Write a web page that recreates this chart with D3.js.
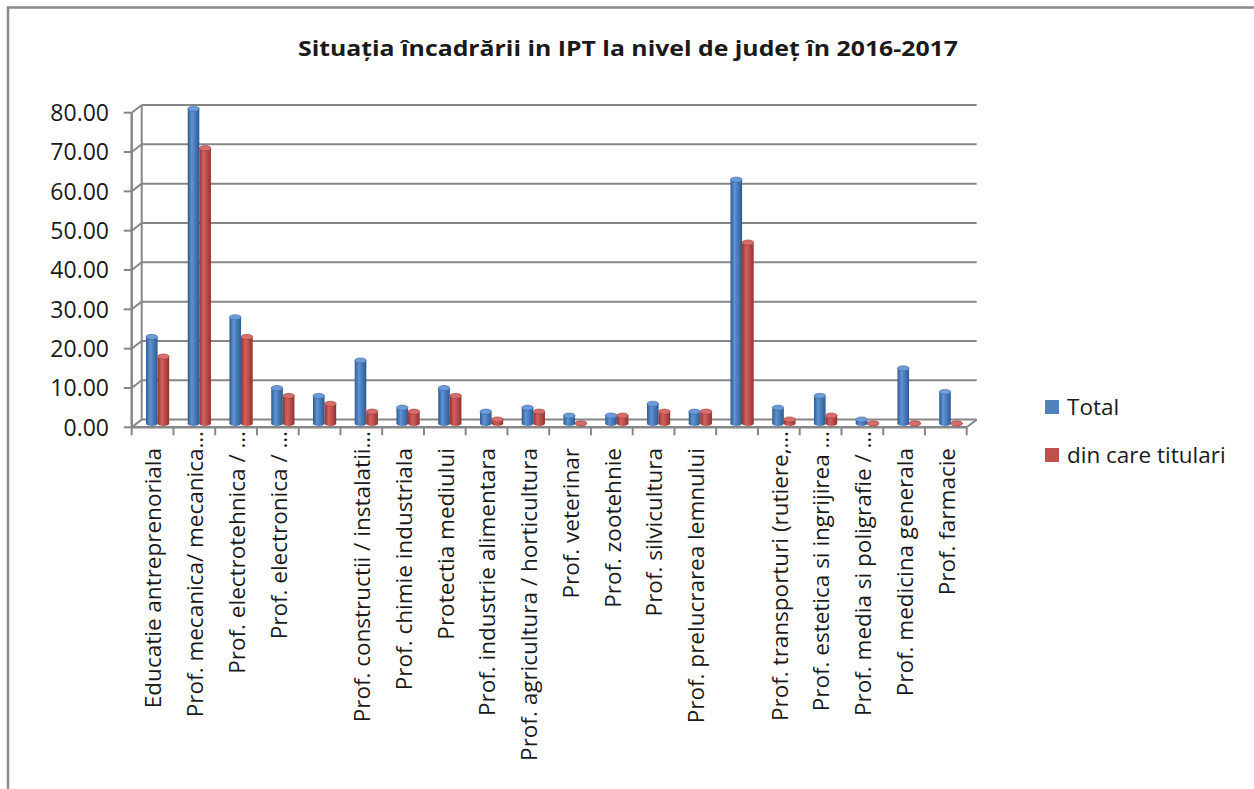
<!DOCTYPE html>
<html>
<head>
<meta charset="utf-8">
<script src="https://cdn.jsdelivr.net/npm/d3@7/dist/d3.min.js"></script>
<style>
  html, body { margin: 0; padding: 0; background: #fff; }
  svg { display: block; }
  text { font-family: "Open Sans", "DejaVu Sans", sans-serif; fill: #1a1a1a; }
</style>
</head>
<body>
<svg id="chart" width="1254" height="789"></svg>
<script>
const title = "Situația încadrării in IPT la nivel de județ în 2016-2017";
const categories = [
  "Educatie antreprenoriala",
  "Prof. mecanica/ mecanica…",
  "Prof. electrotehnica / …",
  "Prof. electronica / …",
  "",
  "Prof. constructii / instalatii…",
  "Prof. chimie industriala",
  "Protectia mediului",
  "Prof. industrie alimentara",
  "Prof. agricultura / horticultura",
  "Prof. veterinar",
  "Prof. zootehnie",
  "Prof. silvicultura",
  "Prof. prelucrarea lemnului",
  "",
  "Prof. transporturi (rutiere,…",
  "Prof. estetica si ingrijirea …",
  "Prof. media si poligrafie / …",
  "Prof. medicina generala",
  "Prof. farmacie"
];
const seriesNames = ["Total", "din care titulari"];
const totalValues = [22, 80, 27, 9, 7, 16, 4, 9, 3, 4, 2, 2, 5, 3, 62, 4, 7, 1, 14, 8];
const titulariValues = [17, 70, 22, 7, 5, 3, 3, 7, 1, 3, 0, 2, 3, 3, 46, 1, 2, 0, 0, 0];
const yTicks = [0, 10, 20, 30, 40, 50, 60, 70, 80];

const svg = d3.select("#chart");
const grey = "#878787";

// depth offset of 3D walls
const DX = 10, DY = -7.7;

const x = d3.scaleBand().domain(d3.range(categories.length)).range([131.7, 966.7]).padding(0);
const y = d3.scaleLinear().domain([0, 80]).range([427.3, 112.7]);
const xs = d3.scaleBand().domain(seriesNames).range([0, 23.2]).padding(0);

// defs: cylinder gradients
const defs = svg.append("defs");
function cyl(id, dark, mid, light) {
  const g = defs.append("linearGradient").attr("id", id).attr("x1", "0").attr("x2", "1").attr("y1", "0").attr("y2", "0");
  g.append("stop").attr("offset", "0%").attr("stop-color", dark);
  g.append("stop").attr("offset", "35%").attr("stop-color", light);
  g.append("stop").attr("offset", "60%").attr("stop-color", mid);
  g.append("stop").attr("offset", "100%").attr("stop-color", dark);
}
cyl("gBlue", "#2f5a8e", "#4a7dbd", "#5f93d3");
cyl("gRed", "#8e3230", "#c0504d", "#d0625f");
const colors = {
  "Total": { fill: "url(#gBlue)", top: "#6b9bd8", stroke: "#3b679d", legend: "#4f81bd" },
  "din care titulari": { fill: "url(#gRed)", top: "#d66f6c", stroke: "#9c3c39", legend: "#c0504d" }
};

// border
svg.append("line").attr("x1", 7).attr("x2", 1254).attr("y1", 7.5).attr("y2", 7.5).attr("stroke", "#8a8a8a").attr("stroke-width", 2.5);
svg.append("line").attr("x1", 8).attr("x2", 8).attr("y1", 7).attr("y2", 789).attr("stroke", "#8a8a8a").attr("stroke-width", 2.5);

// title
svg.append("text").attr("x", 628).attr("y", 56).attr("text-anchor", "middle")
  .attr("font-size", 22).attr("font-weight", "bold")
  .attr("textLength", 660).attr("lengthAdjust", "spacingAndGlyphs")
  .text(title);

const x0 = x.range()[0], x1 = x.range()[1];
// back wall gridlines
const grid = svg.append("g");
yTicks.forEach(t => {
  grid.append("line").attr("x1", x0 + DX).attr("x2", x1 + DX).attr("y1", y(t) + DY).attr("y2", y(t) + DY)
    .attr("stroke", grey).attr("stroke-width", 2);
  grid.append("line").attr("x1", x0).attr("x2", x0 + DX).attr("y1", y(t)).attr("y2", y(t) + DY)
    .attr("stroke", grey).attr("stroke-width", 2);
  grid.append("line").attr("x1", x0 - 8).attr("x2", x0).attr("y1", y(t)).attr("y2", y(t))
    .attr("stroke", grey).attr("stroke-width", 2);
  svg.append("text").attr("x", 109).attr("y", y(t)).attr("dy", "0.36em").attr("text-anchor", "end")
    .attr("font-size", 23).text(d3.format(".2f")(t));
});
// back left vertical & front axis
grid.append("line").attr("x1", x0 + DX).attr("x2", x0 + DX).attr("y1", y(80) + DY).attr("y2", y(0) + DY).attr("stroke", grey).attr("stroke-width", 2);
grid.append("line").attr("x1", x0).attr("x2", x0).attr("y1", y(80)).attr("y2", y(0)).attr("stroke", grey).attr("stroke-width", 2.5);
// floor front edge & right diagonal
grid.append("line").attr("x1", x0).attr("x2", x1).attr("y1", y(0)).attr("y2", y(0)).attr("stroke", grey).attr("stroke-width", 2.5);
grid.append("line").attr("x1", x1).attr("x2", x1 + DX).attr("y1", y(0)).attr("y2", y(0) + DY).attr("stroke", grey).attr("stroke-width", 2);
// category ticks
d3.range(categories.length + 1).forEach(i => {
  const xx = x0 + i * x.bandwidth();
  grid.append("line").attr("x1", xx).attr("x2", xx).attr("y1", y(0)).attr("y2", y(0) + 8).attr("stroke", grey).attr("stroke-width", 2);
});

// bars (cylinders) at mid-depth
const mdx = DX / 2, mdy = DY / 2;
const rows = categories.map((c, i) => ({ i, values: [
  { s: "Total", v: totalValues[i] },
  { s: "din care titulari", v: titulariValues[i] }
]}));
const bars = svg.append("g");
rows.forEach(r => {
  const bx = x(r.i) + x.bandwidth() / 2 + mdx - 11.6;
  r.values.forEach(d => {
    const left = bx + xs(d.s), w = xs.bandwidth();
    const ry = 2.6;
    const yt = y(d.v) + mdy, yb = y(0) + mdy;
    const c = colors[d.s];
    bars.append("ellipse").attr("cx", left + w / 2).attr("cy", yb).attr("rx", w / 2).attr("ry", ry).attr("fill", c.fill);
    if (d.v > 0) {
      bars.append("rect").attr("x", left).attr("y", yt).attr("width", w).attr("height", yb - yt).attr("fill", c.fill);
    }
    bars.append("ellipse").attr("cx", left + w / 2).attr("cy", yt).attr("rx", w / 2).attr("ry", ry)
      .attr("fill", c.top).attr("stroke", c.stroke).attr("stroke-width", 0.6);
  });
});

// x labels
categories.forEach((c, i) => {
  const cx = x(i) + x.bandwidth() / 2 + 1;
  const yEnd = c.endsWith("…") ? 431 : 448;
  svg.append("text").attr("transform", `translate(${cx},${yEnd}) rotate(-90)`)
    .attr("text-anchor", "end").attr("dy", "0.35em").attr("font-size", 22.5).text(c);
});

// legend
seriesNames.forEach((s, k) => {
  const ly = 407 + k * 48;
  svg.append("rect").attr("x", 1045).attr("y", ly - 7).attr("width", 14).attr("height", 14).attr("fill", colors[s].legend);
  svg.append("text").attr("x", 1067).attr("y", ly).attr("dy", "0.36em").attr("font-size", 22.5).text(s);
});
</script>
</body>
</html>
